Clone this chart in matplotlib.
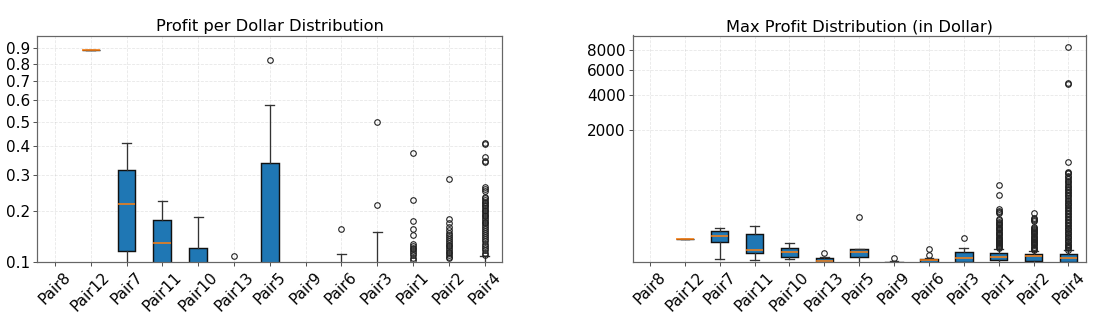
import matplotlib
matplotlib.use('Agg')
import matplotlib.pyplot as plt
import numpy as np


PAIRS = ['Pair8', 'Pair12', 'Pair7', 'Pair11', 'Pair10', 'Pair13', 'Pair5',
         'Pair9', 'Pair6', 'Pair3', 'Pair1', 'Pair2', 'Pair4']

# profit per dollar, one entry per pair (None = no data for that pair)
ppd_whislo = [None, 0.887, 0.07, 0.05, 0.02, 0.01, 0.0, 0.0, 0.0, 0.0, 0.0, 0.0, 0.0]
ppd_q1 = [None, 0.887, 0.118, 0.09, 0.06, 0.03, 0.04, 0.01, 0.02, 0.02, 0.02, 0.02, 0.02]
ppd_med = [None, 0.887, 0.216, 0.1327, 0.085, 0.05, 0.08, 0.02, 0.05, 0.05, 0.04, 0.04, 0.04]
ppd_q3 = [None, 0.887, 0.314, 0.178, 0.1233, 0.07, 0.337, 0.03, 0.08, 0.09, 0.07, 0.07, 0.06]
ppd_whishi = [None, 0.887, 0.412, 0.2237, 0.186, 0.09, 0.576, 0.05, 0.1126, 0.1539, 0.098, 0.098, 0.1105]
ppd_fliers = [
    [], [], [], [], [],
    [0.1094],
    [0.825],
    [],
    [0.1594],
    [0.215, 0.498],
    [0.3746, 0.2263, 0.1765, 0.1588, 0.1473, 0.130, 0.127, 0.124, 0.121,
     0.118, 0.114, 0.111, 0.107, 0.104],
    [0.2866, 0.1803, 0.1714, 0.1642, 0.1573, 0.1505, 0.1465, 0.1425, 0.139,
     0.136, 0.132, 0.1291, 0.126, 0.1227, 0.12, 0.1169, 0.114, 0.1114, 0.109, 0.1061],
    [0.412, 0.408, 0.358, 0.345, 0.341, 0.2628, 0.2563, 0.2515, 0.235, 0.231,
     0.227, 0.223, 0.219, 0.215, 0.211, 0.207, 0.203, 0.199, 0.195, 0.191,
     0.187, 0.183, 0.179, 0.175, 0.171, 0.167, 0.163, 0.159, 0.155, 0.151,
     0.147, 0.143, 0.139, 0.135, 0.131, 0.127, 0.123, 0.119, 0.115, 0.112],
]

# max profit in dollar
mp_whislo = [None, 16, 0.30, 0.19, 0.33, 0.0, 0.0, 0.0, 0.0, 0.0, 0.0, 0.0, 0.0]
mp_q1 = [None, 16, 11.2, 2.08, 0.62, 0.01, 0.74, 0.0, 0.005, 0.088, 0.25, 0.13, 0.09]
mp_med = [None, 16, 21.8, 3.75, 2.26, 0.15, 2.26, 0.02, 0.19, 0.54, 0.74, 0.84, 0.44]
mp_q3 = [None, 16, 34.5, 27.2, 4.77, 0.54, 4.03, 0.088, 0.33, 2.26, 1.82, 1.66, 1.66]
mp_whishi = [None, 16, 45.2, 52.6, 9.88, 0.6, 4.2, 0.15, 0.5, 5.26, 4.03, 3.12, 3.55]
mp_fliers = [
    [], [], [], [], [],
    [1.82],
    [94.3],
    [0.54],
    [1.11, 4.24],
    [17.7],
    [424, 286, 148, 135, 126, 119, 85, 78, 72, 66, 60, 55, 50, 45, 41, 37,
     33, 30, 27, 24, 21, 19, 17, 15, 13, 11.5, 10, 8.8, 7.6, 6.6, 5.6, 4.8],
    [119, 92, 85, 80, 76, 50, 46, 42, 38, 35, 32, 29, 26, 23, 21, 19, 17, 15,
     13, 11.5, 10, 8.6, 7.4, 6.3, 5.3, 4.4, 3.6],
    [8400, 4870, 4810, 905, 670, 655, 640, 590, 560, 530, 500, 470, 445, 420,
     395, 370, 350, 330, 310, 290, 272, 255, 238, 222, 207, 193, 180, 167,
     155, 143, 132, 122, 112, 103, 94, 86, 78, 71, 64, 58, 52, 47, 42, 37,
     33, 29, 26, 23, 20, 17.5, 15, 13, 11, 9.5, 8, 6.8, 5.7, 4.7, 3.9],
]


def make_stats(whislo, q1, med, q3, whishi, fliers):
    stats = []
    pos = []
    for i in range(len(PAIRS)):
        if med[i] is None:
            continue
        stats.append({'whislo': whislo[i], 'q1': q1[i], 'med': med[i],
                      'q3': q3[i], 'whishi': whishi[i],
                      'fliers': np.array(fliers[i])})
        pos.append(i + 1)
    return stats, pos


def draw(ax, stats, pos, title):
    ax.bxp(stats, positions=pos, patch_artist=True, widths=0.5,
           boxprops=dict(linewidth=1.4, edgecolor='#111111'),
           whiskerprops=dict(linewidth=1.3, color='#333333'),
           capprops=dict(linewidth=1.3, color='#333333'),
           medianprops=dict(linewidth=1.5, color='C1'),
           flierprops=dict(marker='o', markersize=5.5, markeredgewidth=1.1,
                           markerfacecolor='none', markeredgecolor='#222222'))
    ax.set_yscale('function', functions=(np.cbrt, lambda x: x ** 3))
    ax.set_xlim(0.5, len(PAIRS) + 0.5)
    ax.set_xticks(range(1, len(PAIRS) + 1))
    ax.set_xticklabels(PAIRS, rotation=45, fontsize=15)
    ax.tick_params(axis='y', labelsize=15)
    ax.tick_params(width=1.0, color='#555555')
    for s in ax.spines.values():
        s.set_linewidth(1.2)
        s.set_color('#666666')
    ax.grid(True, linestyle='--', alpha=0.3)
    ax.set_title(title, fontsize=16, pad=4)


fig = plt.figure(figsize=(1097 / 73, 317 / 73), dpi=73)
ax1 = fig.add_axes([37 / 1097, 54.7 / 317, 465.4 / 1097, 226.8 / 317])
ax2 = fig.add_axes([632.6 / 1097, 54.7 / 317, 453.2 / 1097, 226.8 / 317])

s1, p1 = make_stats(ppd_whislo, ppd_q1, ppd_med, ppd_q3, ppd_whishi, ppd_fliers)
draw(ax1, s1, p1, 'Profit per Dollar Distribution')
ax1.set_ylim(0.1, 0.986)
yt = [0.1, 0.2, 0.3, 0.4, 0.5, 0.6, 0.7, 0.8, 0.9]
ax1.set_yticks(yt)
ax1.set_yticklabels([str(v) for v in yt])

s2, p2 = make_stats(mp_whislo, mp_q1, mp_med, mp_q3, mp_whishi, mp_fliers)
draw(ax2, s2, p2, 'Max Profit Distribution (in Dollar)')
ax2.set_ylim(0.06, 9750)
yt2 = [2000, 4000, 6000, 8000]
ax2.set_yticks(yt2)
ax2.set_yticklabels([str(v) for v in yt2])

fig.savefig('out.png', dpi=73)
